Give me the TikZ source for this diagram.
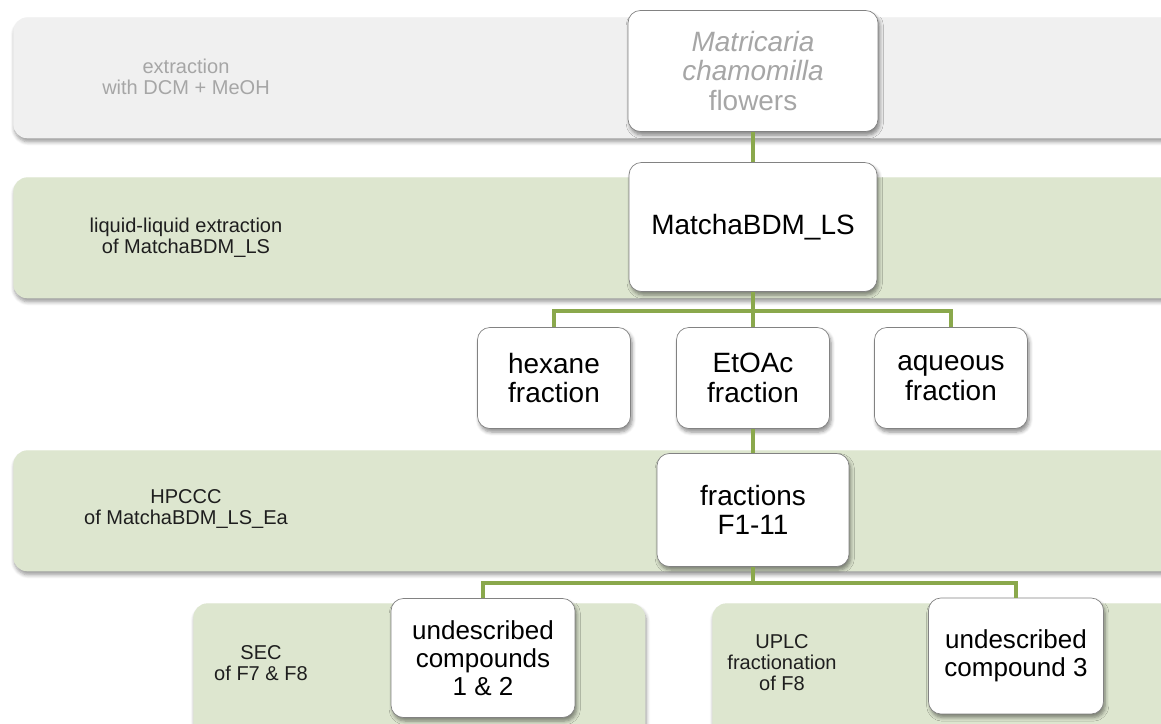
\documentclass[tikz,border=0pt]{standalone}
\usepackage{fontspec}
\setmainfont{Liberation Sans}
\usepackage{xcolor}
\usepackage{tikz}
\usetikzlibrary{positioning,shadows.blur}
\tikzset{
  band/.style    ={rounded corners=8pt, minimum width=23.9cm, minimum height=2.42cm,
                   anchor=north west, inner sep=0pt,
                   blur shadow={shadow xshift=0.6pt, shadow yshift=-2pt,
                                shadow opacity=40, shadow blur steps=6}},
  bandgray/.style={band, fill=bandgray},
  bandgreen/.style={band, fill=bandgreen},
  bandtxt/.style ={align=center, font=\fontsize{11.4}{12}\selectfont,
                   text=sidetext, inner sep=0pt},
  stepbox/.style ={draw=boxline, fill=white, rounded corners=7pt, align=center,
                   font=\fontsize{15.9}{16.8}\selectfont, inner sep=2pt,
                   blur shadow={shadow xshift=1pt, shadow yshift=-2pt,
                                shadow opacity=45, shadow blur steps=5}},
  cpdbox/.style  ={stepbox, font=\fontsize{14.8}{15.9}\selectfont},
  link/.style    ={draw=linkgreen, line width=2.3pt},
}
\definecolor{bandgray} {RGB}{240,240,240}
\definecolor{bandgreen}{RGB}{221,230,207}
\definecolor{linkgreen}{RGB}{138,168,76}
\definecolor{boxline}  {RGB}{130,130,130}
\definecolor{fadetext} {RGB}{166,166,166}
\definecolor{sidetext} {RGB}{30,30,30}

\begin{document}
\begin{tikzpicture}[x=0.02cm,y=-0.02cm]
  \useasboundingbox (0,0) rectangle (1161,724);
  \clip (0,0) rectangle (1161,724);
  % bands
  \node[bandgray]  (bextr) at (13,17)  {};
  \node[bandgreen] (bliq)  at (13,177) {};
  \node[bandgreen] (bhpc)  at (13,450) {};
  \node[bandgreen, minimum width=9.04cm, minimum height=3.2cm] (bsec)  at (193,603) {};
  \node[bandgreen, minimum height=3.2cm] (buplc) at (712,603) {};
  \node[bandtxt, text=fadetext] (textr) at (186,77) {extraction\\with DCM + MeOH};
  \node[bandtxt] (tliq)  at (186,238) {liquid-liquid extraction\\of MatchaBDM\_LS};
  \node[bandtxt] (thpc)  at (186,509) {HPCCC\\of MatchaBDM\_LS\_Ea};
  \node[bandtxt] (tsec)  at (261,663) {SEC\\of F7 \& F8};
  \node[bandtxt] (tuplc) at (782,663) {UPLC\\fractionation\\of F8};
  % steps
  \coordinate (split1) at (753,311);
  \coordinate (split2) at (753,583);
  \node[stepbox, minimum width=5.0cm, minimum height=2.42cm, text=fadetext] (flowers) at (753,71)
    {\textit{Matricaria}\\\textit{chamomilla}\\flowers};
  \node[stepbox, minimum width=4.96cm, minimum height=2.58cm] (matcha) at (753,227) {MatchaBDM\_LS};
  \node[stepbox, minimum width=3.06cm, minimum height=2.02cm] (hexane)  at (554,378) {hexane\\fraction};
  \node[stepbox, minimum width=3.06cm, minimum height=2.02cm] (etoac)   at (753,378) {EtOAc\\fraction};
  \node[stepbox, minimum width=3.06cm, minimum height=2.02cm] (aqueous) at (951,378) {aqueous\\fraction};
  \node[stepbox, minimum width=3.84cm, minimum height=2.26cm] (fract) at (753,510) {fractions\\F1-11};
  \node[cpdbox, minimum width=3.68cm, minimum height=2.38cm] (cpd12) at (483,658) {undescribed\\compounds\\1 \& 2};
  \node[cpdbox, minimum width=3.5cm, minimum height=2.32cm] (cpd3) at (1016,656) {undescribed\\compound 3};
  % connectors
  \draw[link](flowers.south)--(matcha.north);
  \draw[link](matcha.south)--(split1);
  \draw[link](split1)-|(hexane.north);
  \draw[link](split1)-|(aqueous.north);
  \draw[link](split1)--(etoac.north);
  \draw[link](etoac.south)--(fract.north);
  \draw[link](fract.south)--(split2);
  \draw[link](split2)-|(cpd12.north);
  \draw[link](split2)-|(cpd3.north);
\end{tikzpicture}
\end{document}
